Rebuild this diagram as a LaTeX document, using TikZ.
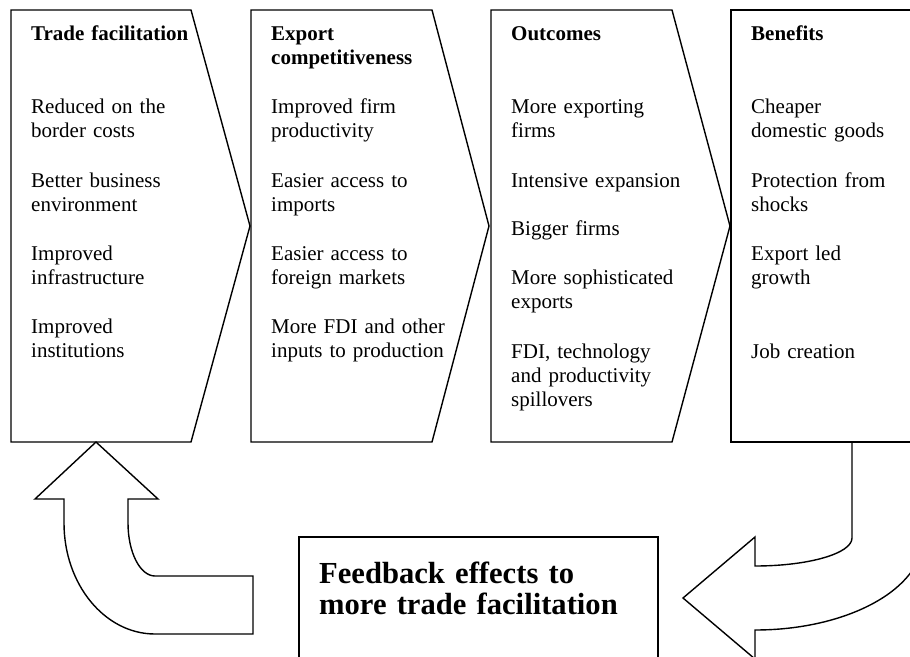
\documentclass[tikz,border=0pt]{standalone}
\usepackage{fontspec}
\setmainfont{Liberation Serif}
\begin{document}
\begin{tikzpicture}[x=1pt, y=-1pt,
  outline/.style={draw=black, line width=1.4pt, line join=miter},
  item/.style={anchor=base west, inner sep=0pt, text width=230pt, align=left,
    font=\fontsize{21}{24.4}\selectfont},
  head/.style={item, font=\fontsize{21}{24.4}\selectfont\bfseries},
  bigtext/.style={anchor=base west, inner sep=0pt, text width=340pt, align=left,
    font=\fontsize{30.6}{31}\selectfont\bfseries}]
\useasboundingbox (0,0) rectangle (910,656);
\clip (0,0) rectangle (910,656);

% four stages: three chevrons and an open-ended box
\draw[outline] (11,10) -- (191,10) -- (250,226) -- (191,442) -- (11,442) -- cycle;
\draw[outline] (251,10) -- (432,10) -- (489,226) -- (432,442) -- (251,442) -- cycle;
\draw[outline] (491,10) -- (672,10) -- (730,226) -- (672,442) -- (491,442) -- cycle;
\draw[outline] (731,10) -- (940,10) -- (940,442) -- (731,442) -- cycle;

% feedback box
\draw[outline] (299,537) rectangle (658,700);

% curved block arrow back up to trade facilitation
\draw[outline] (96,442) -- (158,499) -- (128,499) -- (128,523)
  arc[start angle=180, end angle=90, x radius=27, y radius=53]
  -- (253,576) -- (253,634) -- (155,634)
  arc[start angle=90, end angle=180, x radius=91, y radius=111]
  -- (64,499) -- (35,499) -- cycle;

% curved block arrow from benefits down to the feedback box
\draw[outline] (683,598) -- (755,537) -- (755,566)
  arc[start angle=90, end angle=0, x radius=97, y radius=28]
  -- (852,442) -- (923,442) -- (923,538)
  arc[start angle=0, end angle=90, x radius=168, y radius=92]
  -- (755,659) -- cycle;

% column 1
\node[head] (t1) at (31,40) {Trade facilitation};
\node[item] (a1) at (31,113) {Reduced on the\\border costs};
\node[item] (a2) at (31,187) {Better business\\environment};
\node[item] (a3) at (31,260) {Improved\\infrastructure};
\node[item] (a4) at (31,333) {Improved\\institutions};

% column 2
\node[head] (t2) at (271,40) {Export\\competitiveness};
\node[item] (b1) at (271,113) {Improved firm\\productivity};
\node[item] (b2) at (271,187) {Easier access to\\imports};
\node[item] (b3) at (271,260) {Easier access to\\foreign markets};
\node[item] (b4) at (271,333) {More FDI and other\\inputs to production};

% column 3
\node[head] (t3) at (511,40) {Outcomes};
\node[item] (c1) at (511,113) {More exporting\\firms};
\node[item] (c2) at (511,187) {Intensive expansion};
\node[item] (c3) at (511,235) {Bigger firms};
\node[item] (c4) at (511,284) {More sophisticated\\exports};
\node[item] (c5) at (511,358) {FDI, technology\\and productivity\\spillovers};

% column 4
\node[head] (t4) at (751,40) {Benefits};
\node[item] (d1) at (751,113) {Cheaper\\domestic goods};
\node[item] (d2) at (751,187) {Protection from\\shocks};
\node[item] (d3) at (751,260) {Export led\\growth};
\node[item] (d4) at (751,358) {Job creation};

% feedback label
\node[bigtext] (fb) at (319,583) {Feedback effects to\\more trade facilitation};
\end{tikzpicture}
\end{document}
